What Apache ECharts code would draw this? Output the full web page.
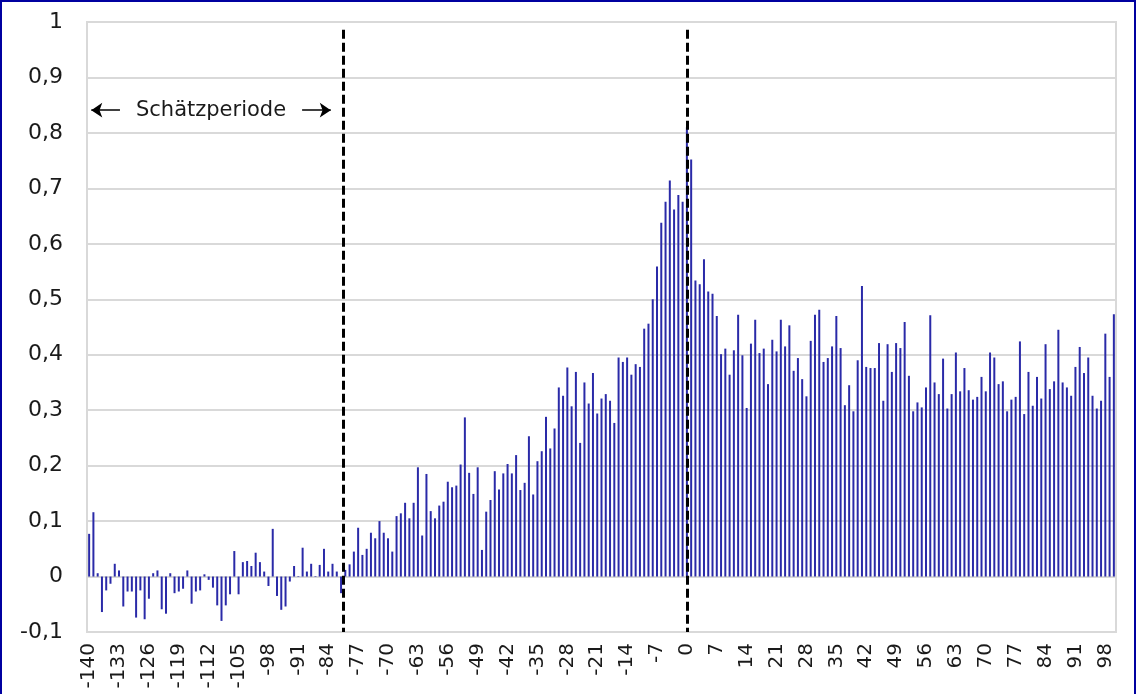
<!DOCTYPE html>
<html>
<head>
<meta charset="utf-8">
<title>Schätzperiode</title>
<script src="https://cdn.jsdelivr.net/npm/echarts@6/dist/echarts.min.js"></script>
<style>
  html, body { margin: 0; padding: 0; overflow: hidden; background: #fff; }
  #frame { position: absolute; left: 0; top: 0; width: 1136px; height: 730px; box-sizing: border-box; border: 2px solid #0000a0; }
  #chart { width: 100%; height: 100%; }
</style>
</head>
<body>
<div id="frame"><div id="chart"></div></div>
<script>
// Tage -140 .. 100
const days = [];
for (let d = -140; d <= 100; d++) days.push(String(d));

// Schätzperiode: Tag -140 .. -81
const valuesEstimation = [
  0.077, 0.116, 0.006, -0.064, -0.025, -0.013, 0.023, 0.011, -0.054, -0.027,
  -0.027, -0.074, -0.025, -0.077, -0.04, 0.006, 0.011, -0.059, -0.067, 0.006,
  -0.03, -0.027, -0.022, 0.011, -0.049, -0.027, -0.025, 0.004, -0.006, -0.02,
  -0.052, -0.08, -0.052, -0.032, 0.046, -0.032, 0.026, 0.028, 0.019, 0.043,
  0.026, 0.009, -0.017, 0.086, -0.035, -0.06, -0.054, -0.009, 0.019, 0.001,
  0.052, 0.009, 0.023, 0.001, 0.021, 0.05, 0.009, 0.023, 0.009, -0.03
];

// Vorlauf: Tag -80 .. -1
const valuesBefore = [
  0.012, 0.022, 0.045, 0.088, 0.039, 0.05, 0.079, 0.069, 0.1, 0.079,
  0.069, 0.045, 0.109, 0.114, 0.133, 0.105, 0.133, 0.197, 0.074, 0.185,
  0.118, 0.105, 0.128, 0.135, 0.171, 0.161, 0.164, 0.202, 0.287, 0.187,
  0.149, 0.197, 0.048, 0.117, 0.138, 0.19, 0.157, 0.186, 0.203, 0.186,
  0.219, 0.156, 0.169, 0.253, 0.148, 0.208, 0.226, 0.288, 0.231, 0.267,
  0.341, 0.326, 0.377, 0.307, 0.369, 0.241, 0.35, 0.312, 0.367, 0.294,
  0.321, 0.329, 0.317, 0.277, 0.395, 0.387, 0.395, 0.364, 0.383, 0.378,
  0.447, 0.456, 0.5, 0.559, 0.638, 0.676, 0.714, 0.662, 0.688, 0.676
];

// Ereignistag und danach: Tag 0 .. 100
const valuesAfter = [
  0.81, 0.752, 0.534, 0.527, 0.572, 0.514, 0.51, 0.47, 0.401, 0.411,
  0.364, 0.408, 0.472, 0.399, 0.304, 0.42, 0.463, 0.403, 0.411, 0.347,
  0.427, 0.406, 0.463, 0.415, 0.453, 0.371, 0.394, 0.356, 0.325, 0.425,
  0.472, 0.481, 0.387, 0.394, 0.415, 0.47, 0.412, 0.309, 0.345, 0.298,
  0.39, 0.524, 0.378, 0.376, 0.376, 0.421, 0.317, 0.419, 0.369, 0.421,
  0.412, 0.459, 0.362, 0.298, 0.314, 0.305, 0.341, 0.471, 0.35, 0.329,
  0.393, 0.303, 0.329, 0.404, 0.334, 0.376, 0.336, 0.319, 0.324, 0.36,
  0.334, 0.404, 0.395, 0.347, 0.352, 0.298, 0.319, 0.324, 0.424, 0.293,
  0.369, 0.308, 0.36, 0.321, 0.419, 0.338, 0.352, 0.445, 0.35, 0.341,
  0.326, 0.378, 0.414, 0.367, 0.395, 0.326, 0.303, 0.317, 0.438, 0.36,
  0.473
];

const values = valuesEstimation.concat(valuesBefore, valuesAfter);

// Trennlinien (Ende Schätzperiode, Ereignistag) und Pfeil
const dividerDays = [-80.5, 0];
const dividerTop = 0.986;
const dividerBottom = -0.1;
const arrowFrom = -139.5;
const arrowTo = -83.4;
const arrowLevel = 0.841;

const FONT = 'DejaVu Sans';
const chart = echarts.init(document.getElementById('chart'));

const option = {
  animation: false,
  grid: {
    left: 85,
    right: 18,
    top: 20,
    bottom: 96,
    show: true,
    borderColor: '#d9d9d9',
    borderWidth: 2
  },
  xAxis: [
    {
      type: 'category',
      data: days,
      axisLine: { show: false, onZero: false },
      axisTick: { show: false },
      splitLine: { show: false },
      axisLabel: {
        interval: 6,
        rotate: 90,
        margin: 11,
        fontSize: 20,
        fontFamily: FONT,
        color: '#1a1a1a'
      }
    },
    {
      // unsichtbare Werteachse für die Markierungen zwischen den Tagen
      type: 'value',
      show: false,
      min: -140.5,
      max: 100.5
    }
  ],
  yAxis: {
    type: 'value',
    min: -0.1,
    max: 1,
    interval: 0.1,
    axisLine: { show: false },
    axisTick: { show: true, length: 8, lineStyle: { color: '#d9d9d9', width: 2 } },
    splitLine: { lineStyle: { color: '#d9d9d9', width: 2 } },
    axisLabel: {
      margin: 24,
      fontSize: 22,
      fontFamily: FONT,
      color: '#1a1a1a',
      formatter: v => String(Math.round(v * 10) / 10).replace('.', ',')
    }
  },
  series: [
    {
      type: 'bar',
      data: values,
      barWidth: 2,
      itemStyle: { color: '#2a2aa8' }
    },
    {
      type: 'line',
      xAxisIndex: 1,
      data: [],
      silent: true,
      markLine: {
        silent: true,
        animation: false,
        data: [
          [
            {
              coord: [arrowFrom, arrowLevel],
              symbol: 'arrow',
              lineStyle: { color: '#000', width: 1.5, type: 'solid' },
              label: {
                show: true,
                position: 'insideMiddle',
                formatter: 'Schätzperiode',
                fontFamily: FONT,
                fontSize: 21,
                color: '#1a1a1a',
                backgroundColor: '#fff',
                padding: [2, 16]
              }
            },
            { coord: [arrowTo, arrowLevel], symbol: 'arrow' }
          ]
        ].concat(dividerDays.map(d => [
          {
            coord: [d, dividerTop],
            symbol: 'none',
            lineStyle: { color: '#000', width: 3, type: [9, 4] },
            label: { show: false }
          },
          { coord: [d, dividerBottom], symbol: 'none' }
        ])),
        symbolSize: 11
      }
    }
  ]
};

chart.setOption(option);
window.addEventListener('resize', () => chart.resize());
</script>
</body>
</html>
